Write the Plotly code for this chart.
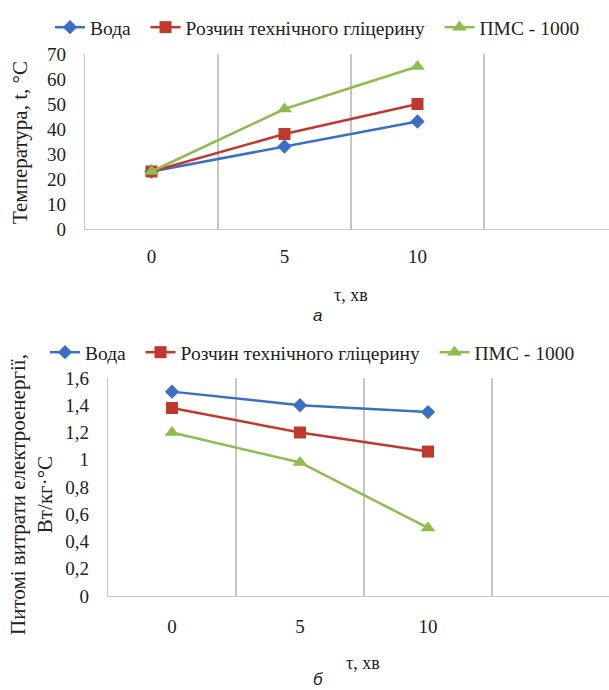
import plotly.graph_objects as go

W, H = 609, 690

categories = ["0", "5", "10"]
series_names = ["Вода", "Розчин технічного гліцерину", "ПМС - 1000"]
temp_voda = [23, 33, 43]
temp_glic = [23, 38, 50]
temp_pms = [23, 48, 65]
energy_voda = [1.50, 1.40, 1.35]
energy_glic = [1.38, 1.20, 1.06]
energy_pms = [1.20, 0.98, 0.50]
y1_ticks = [0, 10, 20, 30, 40, 50, 60, 70]
y2_ticks = [0, 0.2, 0.4, 0.6, 0.8, 1.0, 1.2, 1.4, 1.6]
y2_ticktext = ["0", "0,2", "0,4", "0,6", "0,8", "1", "1,2", "1,4", "1,6"]

colors = ["#3a6fc4", "#c0392f", "#8fbc4f"]
symbols = ["diamond", "square", "triangle-up"]
msize = [11, 12, 13]
FONT = "'Liberation Serif', 'Times New Roman', Tinos, Times, serif"
SANS = "'Liberation Sans', Arial, sans-serif"
FS = 19
TXT = "#222222"

xs = list(range(len(categories)))
ncat = len(categories) + 1  # Excel-like extra empty category
pad = "\u00a0" * 2

fig = go.Figure()
for i, (name, vals) in enumerate(zip(series_names, [temp_voda, temp_glic, temp_pms])):
    fig.add_trace(go.Scatter(x=xs, y=vals, name=name + pad, mode="lines+markers",
                             line=dict(color=colors[i], width=2.5),
                             marker=dict(symbol=symbols[i], size=msize[i], color=colors[i]),
                             xaxis="x", yaxis="y", legend="legend"))
for i, (name, vals) in enumerate(zip(series_names, [energy_voda, energy_glic, energy_pms])):
    fig.add_trace(go.Scatter(x=xs, y=vals, name=name + pad, mode="lines+markers",
                             line=dict(color=colors[i], width=2.5),
                             marker=dict(symbol=symbols[i], size=msize[i], color=colors[i]),
                             xaxis="x2", yaxis="y2", legend="legend2"))

def px_x(p):
    return p / W

def px_y(p):
    return 1 - p / H

# plot geometry (pixels)
top_left, top_bottom, top_top, top_cat = 85, 229, 54, 133
bot_left, bot_bottom, bot_top, bot_cat = 108, 596, 378, 128

axis_common = dict(showgrid=False, zeroline=False, showline=True, linecolor="#c8c8c8",
                   linewidth=1.3, ticks="", tickfont=dict(family=FONT, size=FS, color=TXT))
leg_common = dict(orientation="h", xanchor="left", yanchor="top",
                  font=dict(family=FONT, size=19.5, color=TXT), bgcolor="rgba(0,0,0,0)",
                  itemwidth=30, tracegroupgap=0, borderwidth=0)

fig.update_layout(
    width=W, height=H, margin=dict(l=0, r=0, t=0, b=0, pad=0, autoexpand=False),
    paper_bgcolor="white", plot_bgcolor="white",
    font=dict(family=FONT, size=FS, color=TXT),
    xaxis=dict(domain=[px_x(top_left), 1], range=[-0.5, -0.5 + (W - top_left) / top_cat],
               tickvals=xs, ticktext=categories, anchor="y", ticklabelstandoff=10, **axis_common),
    yaxis=dict(domain=[px_y(top_bottom), px_y(top_top)], range=[0, 70], tickvals=y1_ticks,
               anchor="x", ticklabelstandoff=14, **axis_common),
    xaxis2=dict(domain=[px_x(bot_left), 1], range=[-0.5, -0.5 + (W - bot_left) / bot_cat],
                tickvals=xs, ticktext=categories, anchor="y2", ticklabelstandoff=13, **axis_common),
    yaxis2=dict(domain=[px_y(bot_bottom), px_y(bot_top)], range=[0, 1.6], tickvals=y2_ticks,
                ticktext=y2_ticktext, anchor="x2", ticklabelstandoff=14, **axis_common),
    legend=dict(x=px_x(50), y=px_y(8), **leg_common),
    legend2=dict(x=px_x(45), y=px_y(333), **leg_common),
)

# vertical gridlines at category boundaries
for xa, ya in [("x", "y"), ("x2", "y2")]:
    for k in range(ncat):
        fig.add_shape(type="line", xref=xa, yref=f"{ya} domain", x0=k + 0.5, x1=k + 0.5,
                      y0=0, y1=1, line=dict(color="#a6a6a6", width=1.3), layer="below")

# axis titles and captions
ann = dict(xref="paper", yref="paper", showarrow=False, xanchor="center", yanchor="middle")
fig.add_annotation(x=px_x(20), y=px_y(143), text="Температура, t, °С", textangle=-90,
                   font=dict(family=FONT, size=21, color=TXT), **ann)
fig.add_annotation(x=px_x(31), y=px_y(495), text="Питомі витрати електроенергії,<br>Вт/кг·°С",
                   textangle=-90, font=dict(family=FONT, size=21, color=TXT), **ann)
fig.add_annotation(x=px_x(351), y=px_y(295), text="τ, хв",
                   font=dict(family=FONT, size=18, color=TXT), **ann)
fig.add_annotation(x=px_x(363), y=px_y(663), text="τ, хв",
                   font=dict(family=FONT, size=18, color=TXT), **ann)
fig.add_annotation(x=px_x(317), y=px_y(316), text="<i>а</i>",
                   font=dict(family=SANS, size=17, color=TXT), **ann)
fig.add_annotation(x=px_x(318), y=px_y(679), text="<i>б</i>",
                   font=dict(family=SANS, size=17, color=TXT), **ann)

fig.write_html("out.html")
